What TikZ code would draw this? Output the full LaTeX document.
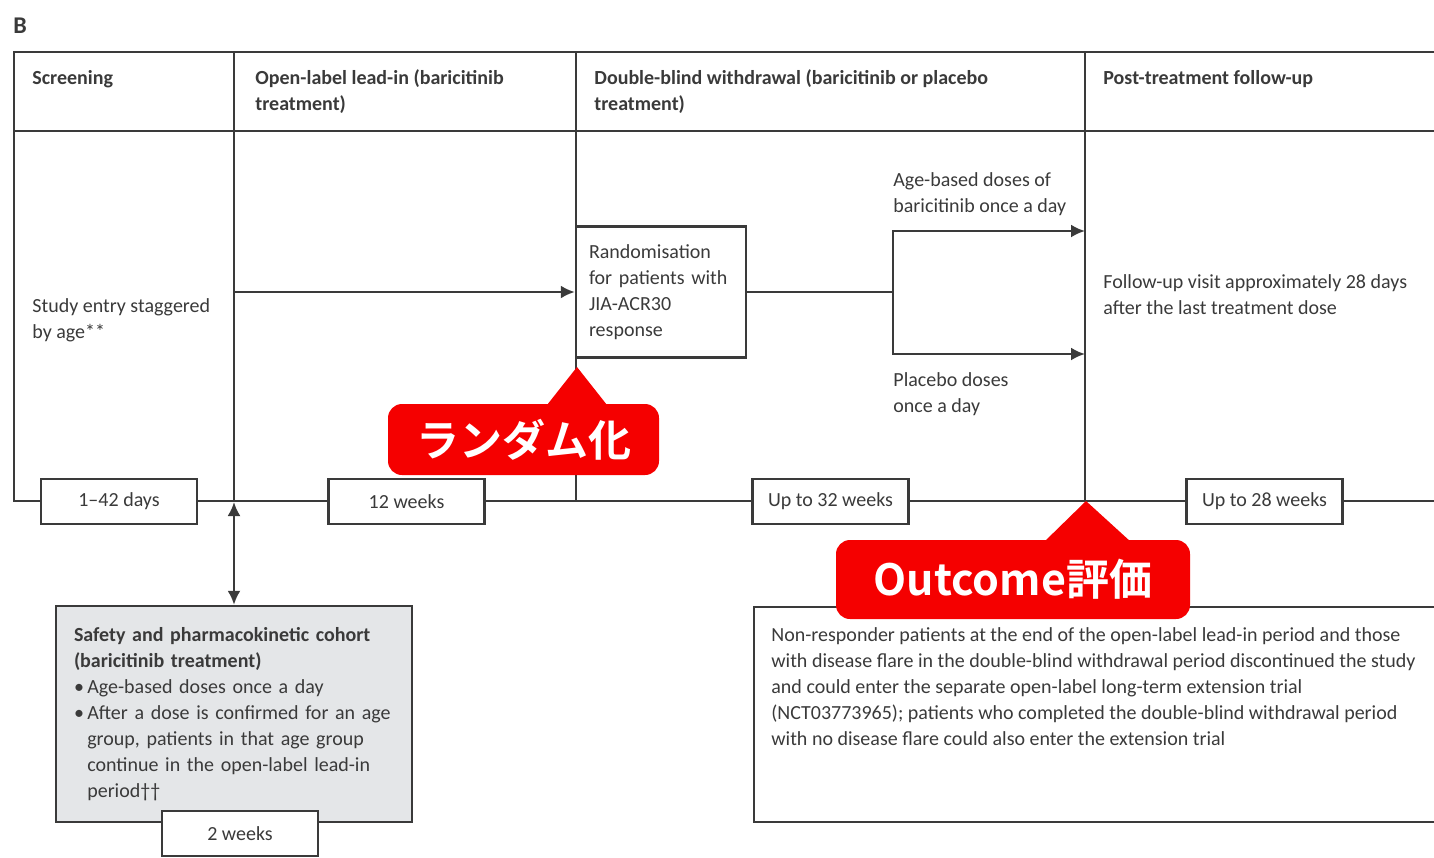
\documentclass[tikz,border=0pt]{standalone}
\usepackage{fontspec}
\setmainfont{Carlito}
\newfontfamily\jpfont{Noto Sans CJK JP Bold}
\usetikzlibrary{arrows.meta}
\definecolor{ink}{HTML}{3A3A3A}
\definecolor{cohortgray}{HTML}{E4E6E8}
\definecolor{tagred}{HTML}{F50000}
\newcommand{\bodyfont}{\fontsize{10}{13}\selectfont}
\begin{document}
\begin{tikzpicture}[x=0.5pt,y=-0.5pt,
    rule/.style={draw=ink,line width=1.2pt},
    arr/.style={rule,-{Latex[length=7pt,width=6.5pt]}},
    txt/.style={anchor=north west,inner sep=0pt,align=left,text=ink,font=\bodyfont,execute at begin node=\strut},
    head/.style={txt,font=\bodyfont\bfseries},
    durbox/.style={rule,fill=white,text=ink,font=\bodyfont,minimum width=78pt,minimum height=22.5pt,inner sep=0pt},
    tag/.style={fill=tagred,rounded corners=7pt,text=white,font=\jpfont\fontsize{21.5}{24}\selectfont,inner sep=0pt}]
\useasboundingbox (0,0) rectangle (1434,857);
\node[font=\fontsize{12}{14}\selectfont\bfseries,text=ink] (panel) at (20,26) {B};
\draw[rule] (1434,52) -- (14,52) -- (14,501) -- (1434,501);
\draw[rule] (14,131) -- (1434,131);
\foreach \x in {234,576,1085} \draw[rule] (\x,52) -- (\x,501);
\node[head] (hscreen) at (32,65.5) {Screening};
\node[head] (hleadin) at (255,69.5) {Open-label lead-in (baricitinib\\treatment)};
\node[head] (hwithdraw) at (594,69.5) {Double-blind withdrawal (baricitinib or placebo\\treatment)};
\node[head] (hfollow) at (1103,65.5) {Post-treatment follow-up};
\node[txt] (entry) at (32,298.5) {Study entry staggered\\by age**};
\node[rule,text=ink,font=\bodyfont,align=left,text width=72pt,inner xsep=6.5pt,minimum height=65.5pt] (rand) at (661,292) {Randomisation\\for patients with\\JIA-ACR30\\response};
\node[txt] (baridose) at (893,172.5) {Age-based doses of\\baricitinib once a day};
\node[txt] (placdose) at (893,372.5) {Placebo doses\\once a day};
\node[txt] (fuvisit) at (1103,274.5) {Follow-up visit approximately 28 days\\after the last treatment dose};
\coordinate (leadstart) at (234,292);
\coordinate (split) at (893,292);
\coordinate (upper) at (1085,231);
\coordinate (lower) at (1085,354);
\coordinate (cohortlink) at (234,502);
\draw[arr] (leadstart) -- (rand.west |- leadstart);
\draw[rule] (rand.east |- split) -- (split);
\draw[arr] (split) |- (upper);
\draw[arr] (split) |- (lower);
\node[durbox] (dscreen) at (119,501.5) {1–42 days};
\node[durbox] (dleadin) at (406.5,501.5) {12 weeks};
\node[durbox] (dwithdraw) at (830.5,501.5) {Up to 32 weeks};
\node[durbox] (dfollow) at (1264.5,501.5) {Up to 28 weeks};
\node[rule,fill=cohortgray,text=ink,font=\bodyfont,align=left,text width=160pt,inner xsep=9pt,minimum height=108pt] (cohort) at (234,714) {\textbf{Safety and pharmacokinetic cohort}\\\textbf{(baricitinib treatment)}\\\textbullet\,Age-based doses once a day\\\textbullet\,After a dose is confirmed for an age\\\hphantom{\textbullet\,}group, patients in that age group\\\hphantom{\textbullet\,}continue in the open-label lead-in\\\hphantom{\textbullet\,}period††};
\draw[rule,{Latex[length=7pt,width=6.5pt]}-{Latex[length=7pt,width=6.5pt]}] (cohortlink) -- (cohort.north);
\node[durbox] (dcohort) at (240,833.5) {2 weeks};
\draw[rule] (1434,607) -- (754,607) -- (754,822) -- (1434,822);
\node[txt] (note) at (771,627.5) {Non-responder patients at the end of the open-label lead-in period and those\\with disease flare in the double-blind withdrawal period discontinued the study\\and could enter the separate open-label long-term extension trial\\(NCT03773965); patients who completed the double-blind withdrawal period\\with no disease flare could also enter the extension trial};
\node[tag,minimum width=135.5pt,minimum height=35.5pt] (randtag) at (523.5,439.5) {ランダム化};
\fill[tagred] (547,405) -- (577,367) -- (607,405) -- cycle;
\node[tag,minimum width=177pt,minimum height=39.5pt] (outtag) at (1013,579.5) {Outcome評価};
\fill[tagred] (1044,542) -- (1086,501) -- (1131,542) -- cycle;
\end{tikzpicture}
\end{document}
